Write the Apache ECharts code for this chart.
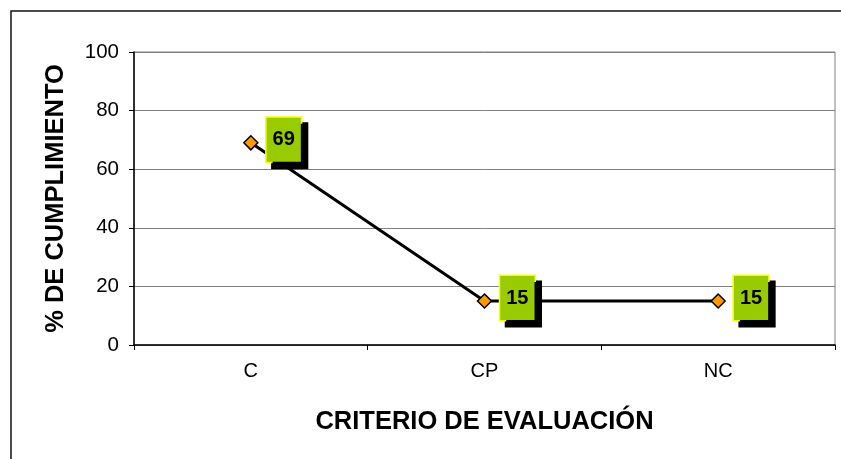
<!DOCTYPE html>
<html>
<head>
<meta charset="utf-8">
<script src="https://cdn.jsdelivr.net/npm/echarts@6/dist/echarts.min.js"></script>
<style>
  html, body { margin: 0; padding: 0; background: #ffffff; }
  #chart { width: 841px; height: 459px; }
</style>
</head>
<body>
<div id="chart"></div>
<script>
// Evaluation criteria and compliance percentages
const categories = ['C', 'CP', 'NC'];
const cumplimiento = [69, 15, 15];
const yMin = 0;
const yMax = 100;
const yStep = 20;

const FONT = '"Liberation Sans", Arial, sans-serif';

const chart = echarts.init(document.getElementById('chart'), null, { renderer: 'canvas' });

chart.setOption({
  backgroundColor: '#ffffff',
  animation: false,
  graphic: [
    {
      // outer chart frame (continues past the right and bottom edges)
      type: 'rect',
      shape: { x: 11, y: 11, width: 1000, height: 1000 },
      style: { fill: 'none', stroke: '#111111', lineWidth: 1.5 },
      silent: true
    }
  ],
  grid: {
    left: 134,
    right: 6,
    top: 52,
    bottom: 114,
    show: true,
    borderColor: '#808080',
    borderWidth: 1,
    backgroundColor: '#ffffff'
  },
  xAxis: {
    type: 'category',
    data: categories,
    boundaryGap: true,
    name: 'CRITERIO DE EVALUACIÓN',
    nameLocation: 'middle',
    nameGap: 64,
    nameTextStyle: { fontFamily: FONT, fontWeight: 'bold', fontSize: 25.5, color: '#000000' },
    axisLine: { show: true, lineStyle: { color: '#000000', width: 1.5 } },
    axisTick: { show: true, inside: false, length: 5, alignWithLabel: false, lineStyle: { color: '#000000', width: 1 } },
    axisLabel: { fontFamily: FONT, fontSize: 20, color: '#000000', margin: 16 },
    splitLine: { show: false }
  },
  yAxis: {
    type: 'value',
    min: yMin,
    max: yMax,
    interval: yStep,
    name: '% DE CUMPLIMIENTO',
    nameLocation: 'middle',
    nameGap: 65,
    nameRotate: 90,
    nameTextStyle: { fontFamily: FONT, fontWeight: 'bold', fontSize: 25.5, color: '#000000' },
    axisLine: { show: true, lineStyle: { color: '#000000', width: 1.5 } },
    axisTick: { show: true, inside: false, length: 5, lineStyle: { color: '#000000', width: 1 } },
    axisLabel: { fontFamily: FONT, fontSize: 20.5, color: '#000000', margin: 15 },
    splitLine: { show: true, lineStyle: { color: '#808080', width: 1 } }
  },
  series: [
    {
      type: 'line',
      data: cumplimiento,
      symbol: 'diamond',
      symbolSize: 14,
      showAllSymbol: true,
      lineStyle: { color: '#000000', width: 3 },
      itemStyle: { color: '#FF9900', borderColor: '#000000', borderWidth: 1.5 },
      z: 3,
      label: {
        show: true,
        position: 'right',
        distance: 8,
        offset: [0, -3],
        formatter: '{c}',
        fontFamily: FONT,
        fontWeight: 'bold',
        fontSize: 20,
        lineHeight: 20,
        color: '#000000',
        backgroundColor: '#99CC00',
        borderColor: '#FFFF00',
        borderWidth: 1.5,
        padding: [12, 6, 12, 6],
        shadowColor: '#000000',
        shadowBlur: 0,
        shadowOffsetX: 6,
        shadowOffsetY: 6
      }
    }
  ]
});
</script>
</body>
</html>
